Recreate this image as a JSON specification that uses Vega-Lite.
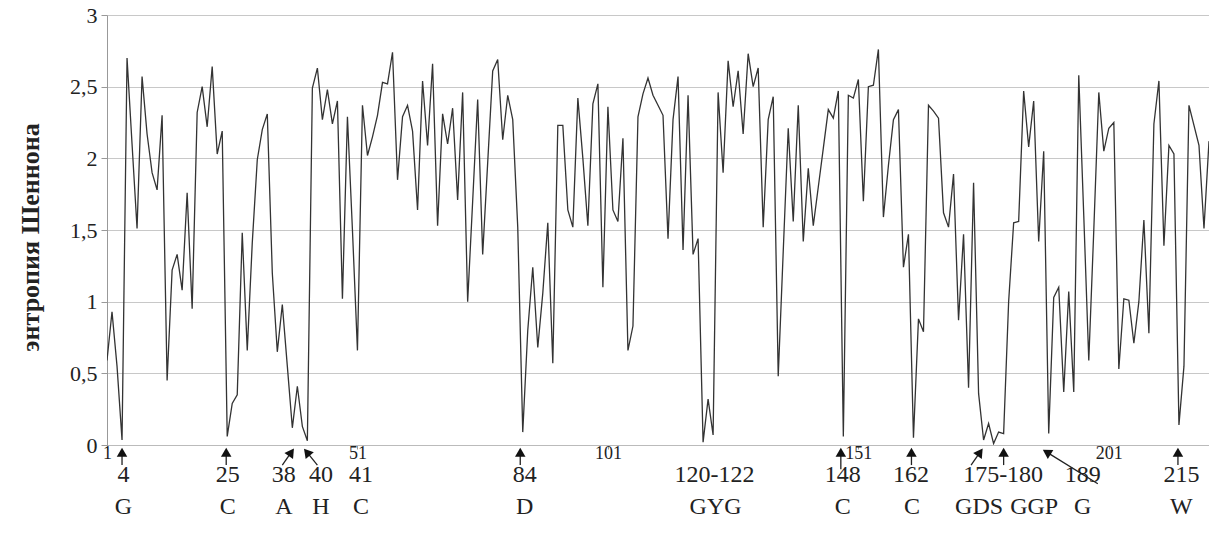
{
  "$schema": "https://vega.github.io/schema/vega-lite/v6.json",
  "width": 1102,
  "height": 430,
  "autosize": {"type": "none"},
  "padding": {"left": 107, "top": 15, "right": 0, "bottom": 98},
  "background": "white",
  "config": {
    "view": {"stroke": null},
    "font": "Liberation Serif",
    "axisX": {"labelFontSize": 18, "labelFont": "Liberation Serif", "labelColor": "#222222", "tickSize": 4, "tickColor": "#999999", "domainColor": "#bbbbbb", "labelPadding": -5, "labelFlush": false, "grid": false}
  },
  "datasets": {
    "entropy": [
      {"pos":1,"H":0.59},{"pos":2,"H":0.93},{"pos":3,"H":0.55},{"pos":4,"H":0.035},{"pos":5,"H":2.70},
      {"pos":6,"H":2.1},{"pos":7,"H":1.51},{"pos":8,"H":2.57},{"pos":9,"H":2.17},{"pos":10,"H":1.90},
      {"pos":11,"H":1.78},{"pos":12,"H":2.30},{"pos":13,"H":0.45},{"pos":14,"H":1.22},{"pos":15,"H":1.33},
      {"pos":16,"H":1.08},{"pos":17,"H":1.76},{"pos":18,"H":0.95},{"pos":19,"H":2.32},{"pos":20,"H":2.50},
      {"pos":21,"H":2.22},{"pos":22,"H":2.64},{"pos":23,"H":2.03},{"pos":24,"H":2.19},{"pos":25,"H":0.06},
      {"pos":26,"H":0.29},{"pos":27,"H":0.35},{"pos":28,"H":1.48},{"pos":29,"H":0.66},{"pos":30,"H":1.41},
      {"pos":31,"H":1.99},{"pos":32,"H":2.20},{"pos":33,"H":2.31},{"pos":34,"H":1.2},{"pos":35,"H":0.65},
      {"pos":36,"H":0.98},{"pos":37,"H":0.55},{"pos":38,"H":0.12},{"pos":39,"H":0.41},{"pos":40,"H":0.13},
      {"pos":41,"H":0.03},{"pos":42,"H":2.49},{"pos":43,"H":2.63},{"pos":44,"H":2.27},{"pos":45,"H":2.48},
      {"pos":46,"H":2.24},{"pos":47,"H":2.40},{"pos":48,"H":1.02},{"pos":49,"H":2.29},{"pos":50,"H":1.5},
      {"pos":51,"H":0.66},{"pos":52,"H":2.37},{"pos":53,"H":2.02},{"pos":54,"H":2.15},{"pos":55,"H":2.3},
      {"pos":56,"H":2.53},{"pos":57,"H":2.52},{"pos":58,"H":2.74},{"pos":59,"H":1.85},{"pos":60,"H":2.29},
      {"pos":61,"H":2.37},{"pos":62,"H":2.19},{"pos":63,"H":1.64},{"pos":64,"H":2.54},{"pos":65,"H":2.09},
      {"pos":66,"H":2.66},{"pos":67,"H":1.53},{"pos":68,"H":2.31},{"pos":69,"H":2.10},{"pos":70,"H":2.35},
      {"pos":71,"H":1.71},{"pos":72,"H":2.46},{"pos":73,"H":1.00},{"pos":74,"H":1.7},{"pos":75,"H":2.41},
      {"pos":76,"H":1.33},{"pos":77,"H":1.97},{"pos":78,"H":2.61},{"pos":79,"H":2.69},{"pos":80,"H":2.13},
      {"pos":81,"H":2.44},{"pos":82,"H":2.27},{"pos":83,"H":1.52},{"pos":84,"H":0.09},{"pos":85,"H":0.80},
      {"pos":86,"H":1.24},{"pos":87,"H":0.68},{"pos":88,"H":1.06},{"pos":89,"H":1.55},{"pos":90,"H":0.57},
      {"pos":91,"H":2.23},{"pos":92,"H":2.23},{"pos":93,"H":1.64},{"pos":94,"H":1.52},{"pos":95,"H":2.42},
      {"pos":96,"H":2.0},{"pos":97,"H":1.53},{"pos":98,"H":2.38},{"pos":99,"H":2.52},{"pos":100,"H":1.10},
      {"pos":101,"H":2.36},{"pos":102,"H":1.64},{"pos":103,"H":1.56},{"pos":104,"H":2.14},{"pos":105,"H":0.66},
      {"pos":106,"H":0.83},{"pos":107,"H":2.29},{"pos":108,"H":2.45},{"pos":109,"H":2.56},{"pos":110,"H":2.44},
      {"pos":111,"H":2.37},{"pos":112,"H":2.30},{"pos":113,"H":1.44},{"pos":114,"H":2.27},{"pos":115,"H":2.57},
      {"pos":116,"H":1.36},{"pos":117,"H":2.44},{"pos":118,"H":1.33},{"pos":119,"H":1.44},{"pos":120,"H":0.02},
      {"pos":121,"H":0.32},{"pos":122,"H":0.07},{"pos":123,"H":2.46},{"pos":124,"H":1.90},{"pos":125,"H":2.68},
      {"pos":126,"H":2.36},{"pos":127,"H":2.61},{"pos":128,"H":2.17},{"pos":129,"H":2.73},{"pos":130,"H":2.50},
      {"pos":131,"H":2.63},{"pos":132,"H":1.52},{"pos":133,"H":2.27},{"pos":134,"H":2.43},{"pos":135,"H":0.48},
      {"pos":136,"H":1.35},{"pos":137,"H":2.21},{"pos":138,"H":1.56},{"pos":139,"H":2.37},{"pos":140,"H":1.42},
      {"pos":141,"H":1.93},{"pos":142,"H":1.53},{"pos":143,"H":1.8},{"pos":144,"H":2.07},{"pos":145,"H":2.34},
      {"pos":146,"H":2.28},{"pos":147,"H":2.47},{"pos":148,"H":0.06},{"pos":149,"H":2.44},{"pos":150,"H":2.42},
      {"pos":151,"H":2.55},{"pos":152,"H":1.70},{"pos":153,"H":2.50},{"pos":154,"H":2.51},{"pos":155,"H":2.76},
      {"pos":156,"H":1.59},{"pos":157,"H":1.95},{"pos":158,"H":2.27},{"pos":159,"H":2.34},{"pos":160,"H":1.24},
      {"pos":161,"H":1.47},{"pos":162,"H":0.05},{"pos":163,"H":0.88},{"pos":164,"H":0.79},{"pos":165,"H":2.37},
      {"pos":166,"H":2.33},{"pos":167,"H":2.28},{"pos":168,"H":1.62},{"pos":169,"H":1.52},{"pos":170,"H":1.89},
      {"pos":171,"H":0.87},{"pos":172,"H":1.47},{"pos":173,"H":0.40},{"pos":174,"H":1.83},{"pos":175,"H":0.36},
      {"pos":176,"H":0.035},{"pos":177,"H":0.15},{"pos":178,"H":0.01},{"pos":179,"H":0.09},{"pos":180,"H":0.08},
      {"pos":181,"H":1.0},{"pos":182,"H":1.55},{"pos":183,"H":1.56},{"pos":184,"H":2.47},{"pos":185,"H":2.08},
      {"pos":186,"H":2.40},{"pos":187,"H":1.42},{"pos":188,"H":2.05},{"pos":189,"H":0.08},{"pos":190,"H":1.03},
      {"pos":191,"H":1.10},{"pos":192,"H":0.37},{"pos":193,"H":1.07},{"pos":194,"H":0.37},{"pos":195,"H":2.58},
      {"pos":196,"H":1.6},{"pos":197,"H":0.59},{"pos":198,"H":1.5},{"pos":199,"H":2.46},{"pos":200,"H":2.05},
      {"pos":201,"H":2.21},{"pos":202,"H":2.25},{"pos":203,"H":0.53},{"pos":204,"H":1.02},{"pos":205,"H":1.01},
      {"pos":206,"H":0.71},{"pos":207,"H":1.0},{"pos":208,"H":1.57},{"pos":209,"H":0.78},{"pos":210,"H":2.24},
      {"pos":211,"H":2.54},{"pos":212,"H":1.39},{"pos":213,"H":2.09},{"pos":214,"H":2.03},{"pos":215,"H":0.14},
      {"pos":216,"H":0.55},{"pos":217,"H":2.37},{"pos":218,"H":2.23},{"pos":219,"H":2.09},{"pos":220,"H":1.51},
      {"pos":221,"H":2.12}
    ],
    "arrows": [
      {"site":"4","ax":4,"ay":-0.14,"tx":4,"ty":-0.05},
      {"site":"25","ax":24.8,"ay":-0.14,"tx":24.8,"ty":-0.05},
      {"site":"38","ax":36,"ay":-0.14,"tx":37.8,"ty":-0.05},
      {"site":"40","ax":43,"ay":-0.14,"tx":40.9,"ty":-0.05},
      {"site":"84","ax":83.5,"ay":-0.14,"tx":83.5,"ty":-0.05},
      {"site":"148","ax":147.5,"ay":-0.17,"tx":147.5,"ty":-0.05},
      {"site":"162","ax":161.6,"ay":-0.14,"tx":161.6,"ty":-0.05},
      {"site":"175","ax":173.5,"ay":-0.14,"tx":175.3,"ty":-0.05},
      {"site":"180","ax":180,"ay":-0.14,"tx":180,"ty":-0.05},
      {"site":"189","ax":198.8,"ay":-0.27,"tx":188.6,"ty":-0.05},
      {"site":"215","ax":214.8,"ay":-0.14,"tx":214.8,"ty":-0.05}
    ],
    "labels": [
      {"row":"num","x":4.3,"text":"4"},
      {"row":"num","x":25.1,"text":"25"},
      {"row":"num","x":36.3,"text":"38"},
      {"row":"num","x":43.7,"text":"40"},
      {"row":"num","x":51.7,"text":"41"},
      {"row":"num","x":84.4,"text":"84"},
      {"row":"num","x":122.3,"text":"120-122"},
      {"row":"num","x":147.9,"text":"148"},
      {"row":"num","x":161.5,"text":"162"},
      {"row":"num","x":179.9,"text":"175-180"},
      {"row":"num","x":195.8,"text":"189"},
      {"row":"num","x":215.5,"text":"215"},
      {"row":"aa","x":4.3,"text":"G"},
      {"row":"aa","x":25.1,"text":"C"},
      {"row":"aa","x":36.3,"text":"A"},
      {"row":"aa","x":43.7,"text":"H"},
      {"row":"aa","x":51.7,"text":"C"},
      {"row":"aa","x":84.4,"text":"D"},
      {"row":"aa","x":122.5,"text":"GYG"},
      {"row":"aa","x":147.9,"text":"C"},
      {"row":"aa","x":161.7,"text":"C"},
      {"row":"aa","x":175.1,"text":"GDS"},
      {"row":"aa","x":186.1,"text":"GGP"},
      {"row":"aa","x":195.8,"text":"G"},
      {"row":"aa","x":215.5,"text":"W"}
    ]
  },
  "layer": [
    {
      "data": {"name": "entropy"},
      "mark": {"type": "line", "color": "#333333", "strokeWidth": 1.3, "clip": true},
      "encoding": {
        "x": {
          "field": "pos", "type": "quantitative",
          "scale": {"domain": [1, 221], "nice": false, "zero": false},
          "axis": {"values": [1, 51, 101, 151, 201], "title": null, "labelFontSize": 18}
        },
        "y": {
          "field": "H", "type": "quantitative",
          "scale": {"domain": [0, 3], "nice": false},
          "axis": {"values": [0, 0.5, 1, 1.5, 2, 2.5, 3], "format": "~g",
                   "labelExpr": "replace(datum.label, '.', ',')",
                   "grid": true, "gridColor": "#c8c8c8", "domainColor": "#999999",
                   "tickColor": "#999999", "tickSize": 6,
                   "labelFontSize": 22, "labelFont": "Liberation Serif", "labelColor": "#222222", "labelPadding": 4,
                   "title": "энтропия Шеннона", "titleFont": "Liberation Serif", "titleFontSize": 26,
                   "titleFontWeight": "bold", "titleColor": "#222222",
                   "titleX": -77, "titleY": 222, "titleAlign": "center", "titleBaseline": "middle", "titleAngle": -90}
        }
      }
    },
    {
      "data": {"name": "arrows"},
      "mark": {"type": "rule", "color": "#222222", "strokeWidth": 1.3},
      "encoding": {
        "x": {"field": "ax", "type": "quantitative"},
        "y": {"field": "ay", "type": "quantitative"},
        "x2": {"field": "tx"},
        "y2": {"field": "ty"}
      }
    },
    {
      "data": {"name": "arrows"},
      "transform": [
        {"calculate": "atan2((datum.tx - datum.ax) * 5.01, (datum.ty - datum.ay) * 143.33) * 180 / PI", "as": "ang"}
      ],
      "mark": {"type": "point", "shape": "triangle-up", "filled": true, "color": "#111111", "size": 110, "opacity": 1},
      "encoding": {
        "x": {"field": "tx", "type": "quantitative"},
        "y": {"field": "ty", "type": "quantitative"},
        "angle": {"field": "ang", "type": "quantitative", "scale": null}
      }
    },
    {
      "data": {"name": "labels"},
      "transform": [{"filter": "datum.row == 'num'"}],
      "mark": {"type": "text", "font": "Liberation Serif", "fontSize": 24, "color": "#222222", "baseline": "middle", "align": "center"},
      "encoding": {
        "x": {"field": "x", "type": "quantitative"},
        "y": {"datum": -0.21},
        "text": {"field": "text"}
      }
    },
    {
      "data": {"name": "labels"},
      "transform": [{"filter": "datum.row == 'aa'"}],
      "mark": {"type": "text", "font": "Liberation Serif", "fontSize": 24, "color": "#222222", "baseline": "middle", "align": "center"},
      "encoding": {
        "x": {"field": "x", "type": "quantitative"},
        "y": {"datum": -0.43},
        "text": {"field": "text"}
      }
    }
  ]
}
